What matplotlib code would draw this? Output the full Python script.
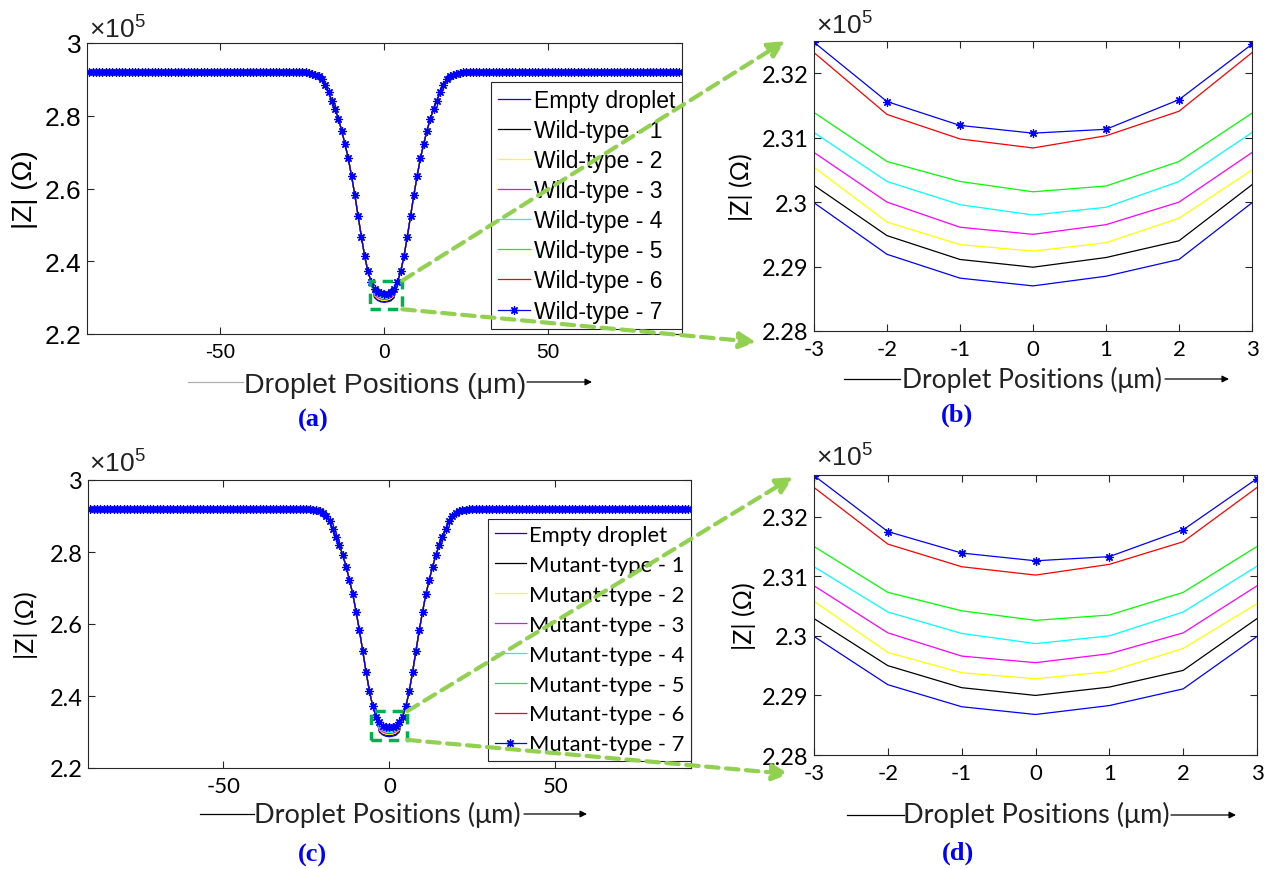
import numpy as np
import matplotlib
matplotlib.use('Agg')
import matplotlib.pyplot as plt
from matplotlib.patches import Rectangle, ConnectionPatch
from matplotlib.lines import Line2D
from matplotlib.ticker import FuncFormatter

plt.rcParams['axes.unicode_minus'] = False
plt.rcParams['mathtext.fontset'] = 'custom'
plt.rcParams['mathtext.rm'] = 'Liberation Sans'

# ---- data (|Z| in units of 1e5 ohm) ----
plateau = 2.92
flank_left = [2.920, 2.919, 2.918, 2.916, 2.913, 2.908, 2.900, 2.885, 2.864, 2.841,
              2.819, 2.791, 2.759, 2.722, 2.683, 2.634, 2.582, 2.525, 2.467, 2.414,
              2.372, 2.343]            # x = -25 ... -4
flank_right = [2.343, 2.372, 2.414, 2.467, 2.525, 2.582, 2.634, 2.683, 2.722, 2.759,
               2.791, 2.819, 2.841, 2.864, 2.885, 2.900, 2.908, 2.913, 2.916, 2.918,
               2.919, 2.920]           # x = 4 ... 25

zoom_x = [-3, -2, -1, 0, 1, 2, 3]

wild_labels = ['Empty droplet'] + ['Wild-type - %d' % i for i in range(1, 8)]
wild_center = [
    [2.2999, 2.2919, 2.2882, 2.2870, 2.2885, 2.2911, 2.2999],
    [2.3026, 2.2948, 2.2911, 2.2899, 2.2914, 2.2940, 2.3027],
    [2.3054, 2.2969, 2.2934, 2.2924, 2.2937, 2.2975, 2.3050],
    [2.3077, 2.3000, 2.2961, 2.2950, 2.2965, 2.3000, 2.3077],
    [2.3108, 2.3032, 2.2996, 2.2980, 2.2992, 2.3032, 2.3108],
    [2.3139, 2.3063, 2.3032, 2.3016, 2.3025, 2.3063, 2.3138],
    [2.3232, 2.3136, 2.3098, 2.3084, 2.3103, 2.3141, 2.3232],
    [2.3248, 2.3156, 2.3119, 2.3107, 2.3113, 2.3159, 2.3245],
]

mutant_labels = ['Empty droplet'] + ['Mutant-type - %d' % i for i in range(1, 8)]
mutant_center = [
    [2.2999, 2.2918, 2.2881, 2.2868, 2.2883, 2.2911, 2.2999],
    [2.3029, 2.2950, 2.2913, 2.2900, 2.2914, 2.2942, 2.3029],
    [2.3058, 2.2972, 2.2938, 2.2928, 2.2940, 2.2979, 2.3054],
    [2.3084, 2.3005, 2.2966, 2.2955, 2.2970, 2.3005, 2.3084],
    [2.3116, 2.3040, 2.3004, 2.2987, 2.3000, 2.3040, 2.3117],
    [2.3150, 2.3073, 2.3042, 2.3026, 2.3035, 2.3073, 2.3150],
    [2.3249, 2.3154, 2.3116, 2.3102, 2.3120, 2.3158, 2.3249],
    [2.3269, 2.3175, 2.3139, 2.3126, 2.3133, 2.3178, 2.3264],
]

colors = ['#0000ff', '#000000', '#ffff00', '#ff00ff', '#00ffff', '#00ff00', '#ff0000', '#0000ff']

x_full = np.arange(-90, 91)


def full_profile(center):
    return np.concatenate([np.full(65, plateau), flank_left, center, flank_right, np.full(65, plateau)])


ARIAL = 'Liberation Sans'
CAL = 'Lato'
fmt = FuncFormatter(lambda v, p: '%g' % round(v, 4))

fig = plt.figure(figsize=(12.7, 8.7), dpi=100)


def P(x, y):
    return (x / 1270, 1 - y / 870)


def px_axes(l, t, r, b):
    return fig.add_axes([l / 1270, 1 - b / 870, (r - l) / 1270, (b - t) / 870])


def style(ax, font, xs, ys):
    for s in ax.spines.values():
        s.set_color('#262626')
        s.set_linewidth(0.8)
    ax.tick_params(direction='in', top=True, right=True, length=5, width=0.8, color='#262626')
    ax.tick_params(axis='x', labelsize=xs, pad=6)
    ax.tick_params(axis='y', labelsize=ys, pad=4)
    for lab in ax.get_xticklabels() + ax.get_yticklabels():
        lab.set_family(font)
    ax.xaxis.set_major_formatter(fmt)
    ax.yaxis.set_major_formatter(fmt)


ax_a = px_axes(87, 44, 682, 335)
ax_b = px_axes(814, 42, 1252, 332)
ax_c = px_axes(88, 481, 691, 769)
ax_d = px_axes(814, 476, 1257, 756)

panels = [
    (ax_a, ax_b, wild_labels, wild_center, ARIAL, (-4.5, 2.268, 10.0, 0.079), 2.325, 16.5, 0.31),
    (ax_c, ax_d, mutant_labels, mutant_center, CAL, (-5.4, 2.278, 10.8, 0.080), 2.327, 15.8, 0.45),
]

for big, small, labels, centers, font, rect, ytop, lfs, lsp in panels:
    for i, (lab, cen) in enumerate(zip(labels, centers)):
        if i == 7:
            big.plot(x_full, full_profile(cen), color=colors[i], lw=0.9, marker=(8, 2, 0),
                     ms=6, mew=0.9, label=lab)
            small.plot(zoom_x, cen, color=colors[i], lw=0.9, marker=(8, 2, 0), ms=6, mew=0.9)
        else:
            big.plot(x_full, full_profile(cen), color=colors[i], lw=0.9, label=lab)
            small.plot(zoom_x, cen, color=colors[i], lw=0.9)

    big.set_xlim(-90.7, 90.8)
    big.set_ylim(2.2, 3.0)
    big.set_xticks([-50, 0, 50])
    big.set_yticks([2.2, 2.4, 2.6, 2.8, 3.0])
    small.set_xlim(-3, 3)
    small.set_ylim(2.28, ytop)
    small.set_xticks(zoom_x)
    small.set_yticks([2.28, 2.29, 2.30, 2.31, 2.32])

    leg = big.legend(loc='upper right', bbox_to_anchor=(1.0, 0.866), borderaxespad=0,
                     fancybox=False, framealpha=1, edgecolor='#262626', numpoints=1,
                     handlelength=1.4, handletextpad=0.15, labelspacing=lsp, borderpad=0.3,
                     prop={'family': font, 'size': lfs})
    leg.get_frame().set_linewidth(0.8)

    big.add_patch(Rectangle((rect[0], rect[1]), rect[2], rect[3], fill=False, edgecolor='#00b050',
                            lw=2.5, linestyle=(0, (3, 2)), zorder=5, clip_on=False))

ax_a.set_ylabel('|Z| (Ω)', family=ARIAL, fontsize=20)
ax_c.set_ylabel('|Z| (Ω)', family=CAL, fontsize=18)
ax_b.set_ylabel('|Z| (Ω)', family=CAL, fontsize=18)
ax_d.set_ylabel('|Z| (Ω)', family=CAL, fontsize=18)
ax_a.yaxis.set_label_coords(-0.082, 0.5)
ax_c.yaxis.set_label_coords(-0.083, 0.5)
ax_b.yaxis.set_label_coords(-0.139, 0.5)
ax_d.yaxis.set_label_coords(-0.132, 0.5)

style(ax_a, ARIAL, 15, 19)
style(ax_b, CAL, 16, 17)
style(ax_c, CAL, 16, 17)
style(ax_d, CAL, 16, 17)

# x labels with the arrow decoration
xlab = [
    (385, 393, 383, 188, 243, 527, 592, ARIAL, 20.5, '#b0b0b0'),
    (1032, 388, 380, 844, 900, 1165, 1229, CAL, 19, '#000000'),
    (387, 823, 815, 200, 254, 524, 587, CAL, 19.5, '#000000'),
    (1036, 823, 816, 847, 904, 1171, 1236, CAL, 19.5, '#000000'),
]
for tx, ty, ly, l0, l1, a0, a1, font, fs, lc in xlab:
    fig.text(*P(tx, ty), 'Droplet Positions (μm)', family=font, fontsize=fs,
             ha='center', va='baseline', color='#222222')
    fig.add_artist(Line2D([l0 / 1270, l1 / 1270], [1 - ly / 870] * 2, color=lc, lw=0.9,
                          transform=fig.transFigure))
    ax_a.annotate('', xy=P(a1, ly), xycoords='figure fraction', xytext=P(a0, ly),
                  textcoords='figure fraction',
                  arrowprops=dict(arrowstyle='-|>', color='black', lw=0.9, mutation_scale=10,
                                  shrinkA=0, shrinkB=0))

# x10^5 exponent labels
for x, y in [(89, 38), (816, 34), (89, 472), (816, 466)]:
    fig.text(*P(x, y), '×10$^{5}$', family=ARIAL, fontsize=19, ha='left', va='baseline',
             color='#222222')

# panel letters
for s, x, y in [('(a)', 313, 420), ('(b)', 957, 415), ('(c)', 312, 855), ('(d)', 958, 853)]:
    fig.text(*P(x, y), s, family='Liberation Serif', fontweight='bold', fontsize=19,
             color='#0000ff', ha='center', va='center')

# dashed zoom arrows
arrows = [
    (ax_a, (5.5, 2.347), (785, 42)),
    (ax_a, (5.5, 2.268), (756, 343)),
    (ax_c, (5.4, 2.358), (793, 478)),
    (ax_c, (5.4, 2.278), (789, 775)),
]
for ax, start, end in arrows:
    con = ConnectionPatch(xyA=start, coordsA=ax.transData, xyB=P(*end), coordsB=fig.transFigure,
                          arrowstyle='-|>,head_length=0.7,head_width=0.35', mutation_scale=14,
                          color='#92d050', lw=3, linestyle=(0, (3, 1.8)), zorder=10)
    fig.add_artist(con)

fig.savefig('out.png', dpi=100)
